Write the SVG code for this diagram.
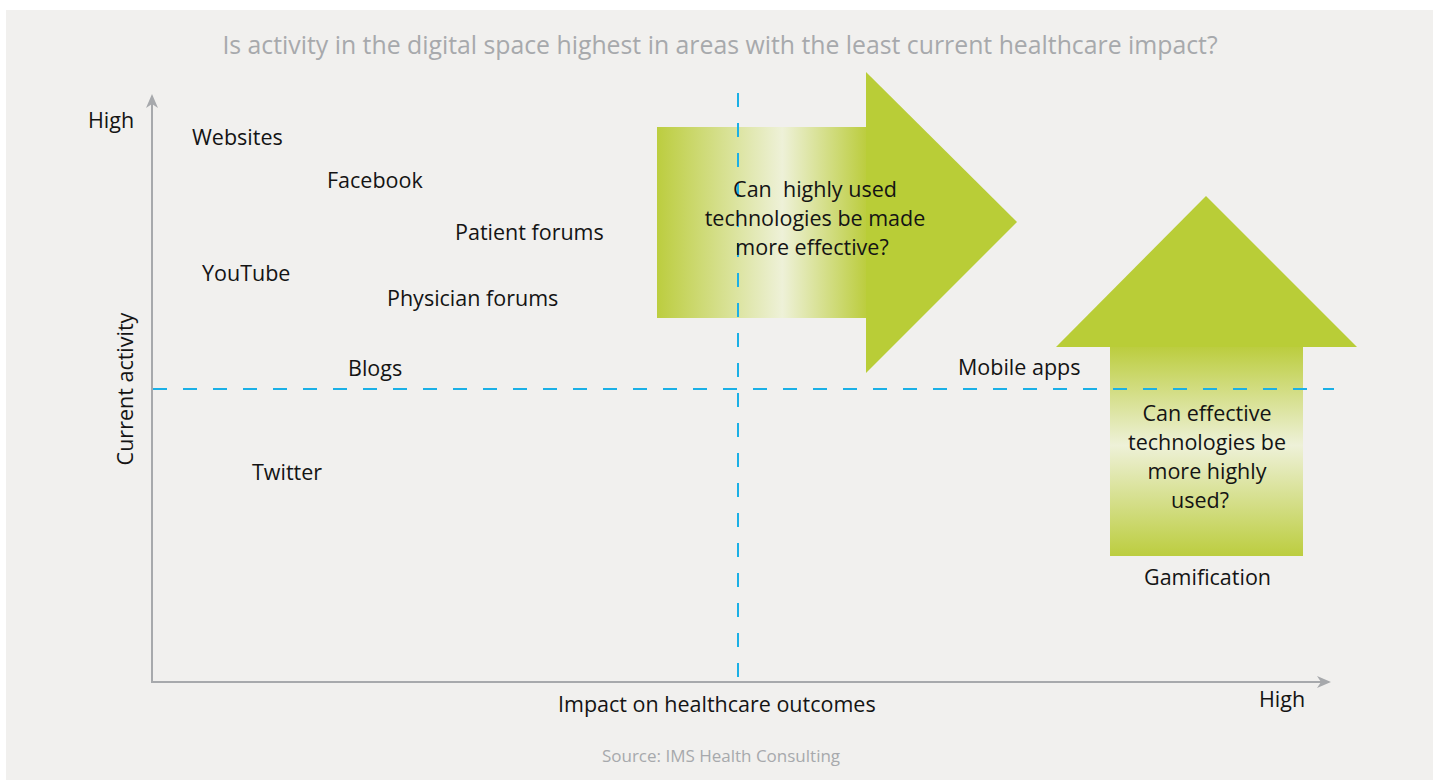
<svg xmlns="http://www.w3.org/2000/svg" width="1433" height="780" viewBox="0 0 1433 780">
  <style>
    .lbl { font-family: "Open Sans", "Liberation Sans", sans-serif; font-size: 21.5px; fill: #141414; }
    .mid { text-anchor: middle; }
    .grey { font-family: "Open Sans", "Liberation Sans", sans-serif; fill: #a7a9ac; }
    .axis { stroke: #a7a9ac; stroke-width: 2; fill: none; }
    .guide { stroke: #1bb0e6; stroke-width: 2; stroke-dasharray: 14 16; fill: none; }
    .head { fill: #b9cd37; }
  </style>
  <defs>
    <marker id="axisHead" markerWidth="14" markerHeight="12" refX="12" refY="6" orient="auto" markerUnits="userSpaceOnUse">
      <path d="M0,0 L14,6 L0,12 L4,6 Z" fill="#a7a9ac"/>
    </marker>
    <linearGradient id="gradH" x1="0" y1="0" x2="1" y2="0">
      <stop offset="0" stop-color="#bccd3f"/>
      <stop offset="0.6" stop-color="#eef1d8"/>
      <stop offset="1" stop-color="#bccd3f"/>
    </linearGradient>
    <linearGradient id="gradV" x1="0" y1="0" x2="0" y2="1">
      <stop offset="0" stop-color="#bccd3f"/>
      <stop offset="0.47" stop-color="#eef1d8"/>
      <stop offset="1" stop-color="#bccd3f"/>
    </linearGradient>
  </defs>

  <!-- panel -->
  <rect x="0" y="0" width="1433" height="780" fill="#ffffff"/>
  <rect x="6" y="10" width="1427" height="770" fill="#f1f0ee"/>

  <text class="grey mid" x="720" y="54" font-size="24.8">Is activity in the digital space highest in areas with the least current healthcare impact?</text>

  <!-- block arrows -->
  <g id="arrow-right">
    <rect x="657" y="127" width="209" height="191" fill="url(#gradH)"/>
    <path class="head" d="M866,72 L1017,222 L866,373 Z"/>
  </g>
  <g id="arrow-up">
    <path class="head" d="M1056,347 L1206,196 L1357,347 Z"/>
    <rect x="1110" y="347" width="193" height="209" fill="url(#gradV)"/>
  </g>

  <!-- axes and guides -->
  <g id="connectors">
    <line class="axis" x1="152" y1="682" x2="152" y2="96" marker-end="url(#axisHead)"/>
    <line class="axis" x1="151" y1="682" x2="1329" y2="682" marker-end="url(#axisHead)"/>
    <line class="guide" x1="153" y1="389" x2="1334" y2="389"/>
    <line class="guide" x1="738" y1="93" x2="738" y2="680"/>
  </g>

  <g id="arrow-right-text">
    <text class="lbl mid" x="815" y="197" xml:space="preserve">Can  highly used</text>
    <text class="lbl mid" x="815" y="226">technologies be made</text>
    <text class="lbl mid" x="812" y="255">more effective?</text>
  </g>
  <g id="arrow-up-text">
    <text class="lbl mid" x="1207" y="421">Can effective</text>
    <text class="lbl mid" x="1207" y="450">technologies be</text>
    <text class="lbl mid" x="1207" y="479">more highly</text>
    <text class="lbl mid" x="1200" y="508">used?</text>
  </g>

  <!-- axis labels -->
  <text class="lbl" x="88" y="128">High</text>
  <text class="lbl" x="1259" y="707">High</text>
  <text class="lbl" x="558" y="712">Impact on healthcare outcomes</text>
  <text class="lbl mid" transform="translate(133,389) rotate(-90)">Current activity</text>

  <!-- items -->
  <g id="websites"><text class="lbl" x="192" y="145">Websites</text></g>
  <g id="facebook"><text class="lbl" x="327" y="188">Facebook</text></g>
  <g id="patient-forums"><text class="lbl" x="455" y="240">Patient forums</text></g>
  <g id="youtube"><text class="lbl" x="202" y="281">YouTube</text></g>
  <g id="physician-forums"><text class="lbl" x="387" y="306">Physician forums</text></g>
  <g id="blogs"><text class="lbl" x="348" y="376">Blogs</text></g>
  <g id="twitter"><text class="lbl" x="252" y="480">Twitter</text></g>
  <g id="mobile-apps"><text class="lbl" x="958" y="375">Mobile apps</text></g>
  <g id="gamification"><text class="lbl" x="1144" y="585">Gamification</text></g>

  <text class="grey mid" x="721" y="762" font-size="17">Source: IMS Health Consulting</text>
</svg>
